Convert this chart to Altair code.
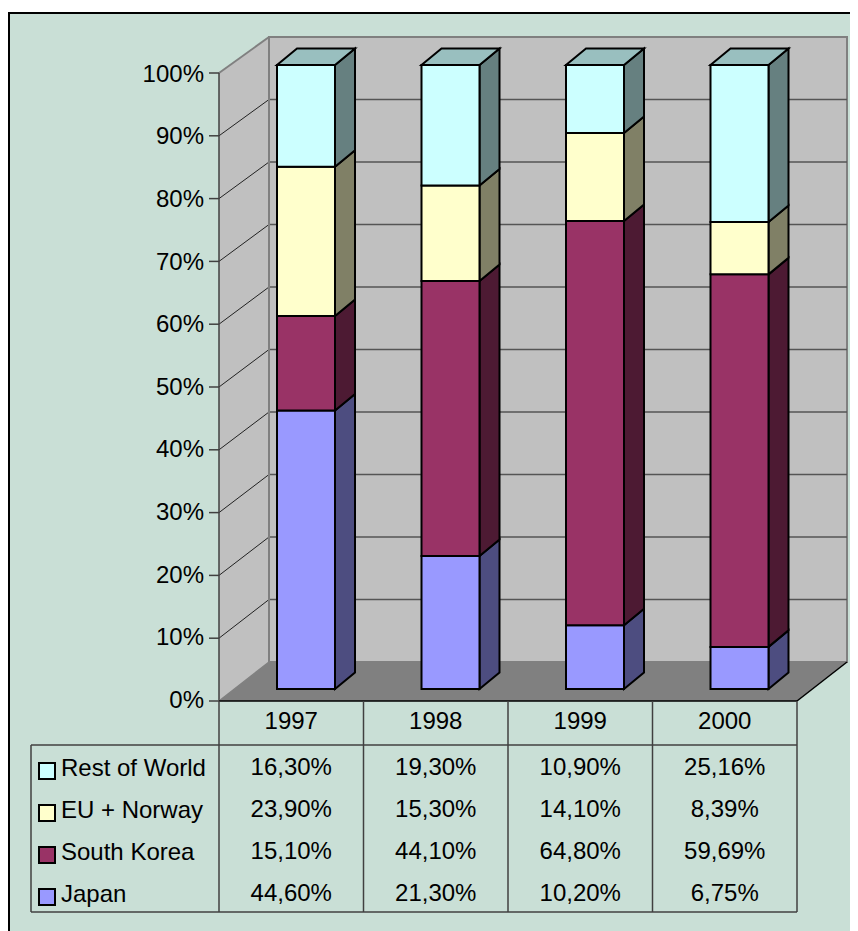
import altair as alt
import pandas as pd

years = ["1997", "1998", "1999", "2000"]
series = ["Japan", "South Korea", "EU + Norway", "Rest of World"]
japan = [44.60, 21.30, 10.20, 6.75]
korea = [15.10, 44.10, 64.80, 59.69]
eu = [23.90, 15.30, 14.10, 8.39]
rest = [16.30, 19.30, 10.90, 25.16]
ticks = [0, 10, 20, 30, 40, 50, 60, 70, 80, 90, 100]
front = ["#9999FF", "#993366", "#FFFFCC", "#CCFFFF"]
side = ["#4D4D80", "#4D1A33", "#808066", "#668080"]
top_face = "#99BFBF"
values = [japan, korea, eu, rest]

W, H = 842, 925
OX, OY = 219.0, 701.0      # picture position of the 0% / first-category corner
UX, UY = 144.5, 6.28       # pixels per category, pixels per percent
TXT = 1.2                  # middle-baseline correction for capitals and digits


def fx(px):
    return (px - OX) / UX


def fy(py):
    return (OY - py) / UY


xs = alt.Scale(domain=[fx(8), fx(8 + W)], range=[0, W], nice=False, zero=False)
ys = alt.Scale(domain=[fy(8 + H), fy(8)], range=[H, 0], nice=False, zero=False)
X = lambda f="x": alt.X(f"{f}:Q", scale=xs, axis=None)
Y = lambda f="y": alt.Y(f"{f}:Q", scale=ys, axis=None)

layers = []
FONT = dict(font="Liberation Sans", fontSize=24, color="black")


def rects(rows, **mk):
    df = pd.DataFrame(rows, columns=["x", "x2", "y", "y2", "c"])
    layers.append(alt.Chart(df).mark_rect(**mk).encode(
        x=X(), x2="x2:Q", y=Y(), y2="y2:Q", fill=alt.Fill("c:N", scale=None)))


def lines(segs, color, width):
    rows = []
    for i, (a, b, c, d) in enumerate(segs):
        rows += [dict(x=a, y=b, id=i, o=0), dict(x=c, y=d, id=i, o=1)]
    layers.append(alt.Chart(pd.DataFrame(rows)).mark_line(
        color=color, strokeWidth=width).encode(
        x=X(), y=Y(), detail="id:N", order="o:Q"))


def vareas(polys, **mk):
    """polys: (x0, lo0, hi0, x1, lo1, hi1, colour)"""
    rows = []
    for i, (x0, l0, h0, x1, l1, h1, c) in enumerate(polys):
        rows += [dict(x=x0, y=l0, y2=h0, id=i, c=c), dict(x=x1, y=l1, y2=h1, id=i, c=c)]
    layers.append(alt.Chart(pd.DataFrame(rows)).mark_area(orient="vertical", **mk).encode(
        x=X(), y=Y(), y2="y2:Q", detail="id:N", fill=alt.Fill("c:N", scale=None)))


def hareas(polys, **mk):
    """polys: (y0, l0, r0, y1, l1, r1, colour)"""
    rows = []
    for i, (y0, l0, r0, y1, l1, r1, c) in enumerate(polys):
        rows += [dict(y=y0, x=l0, x2=r0, id=i, c=c), dict(y=y1, x=l1, x2=r1, id=i, c=c)]
    layers.append(alt.Chart(pd.DataFrame(rows)).mark_area(orient="horizontal", **mk).encode(
        y=Y(), x=X(), x2="x2:Q", detail="id:N", fill=alt.Fill("c:N", scale=None)))


def texts(rows, align):
    df = pd.DataFrame(rows, columns=["x", "y", "t"])
    layers.append(alt.Chart(df).mark_text(align=align, baseline="middle", **FONT).encode(
        x=X(), y=Y(), text="t:N"))


# chart frame
rects([(fx(9), fx(8 + W + 20), fy(13), fy(8 + H + 20), "#C9DFD6")], stroke="black", strokeWidth=2)

# 3-D box
BACK_X = fx(269)
RIGHT = fx(797)
BACK_RIGHT = fx(847)
LIFT = fy(662)
BK = 625 / 628
back = lambda v: LIFT + v * BK
rects([(BACK_X, BACK_RIGHT, back(0), back(100), "#C0C0C0")], stroke="#808080", strokeWidth=2)
vareas([(0, 0, 100, BACK_X, back(0), back(100), "#C0C0C0")])
hareas([(0, 0, RIGHT, LIFT, BACK_X, BACK_RIGHT, "#808080")])
lines([(BACK_X, back(t), BACK_RIGHT, back(t)) for t in ticks[1:-1]], "#555555", 1.5)
lines([(0, t, BACK_X, back(t)) for t in ticks[1:-1]], "#222222", 1)
lines([(0, 100, BACK_X, back(100)), (BACK_X, back(0), BACK_X, back(100))], "#808080", 2)
lines([(0, 0, 0, 100)], "#404040", 1.5)
lines([(fx(209), t, 0, t) for t in ticks], "#404040", 1.5)
lines([(0, 0, BACK_X, back(0))], "#808080", 1.5)

# bars
BAR_L = fx(277)
BAR_W = 58 / UX
BX = 20 / UX
BY = 16.5 / UY
B0 = fy(689)
BS = 624 / 628 * 1.0
fr, sd, tp = [], [], []
for i, yr in enumerate(years):
    col = [v[i] for v in values]
    total = sum(col)
    cum = 0
    left = i + BAR_L
    right = left + BAR_W
    for j, v in enumerate(col):
        lo = B0 + cum / total * 100 * BS
        cum += v
        hi = B0 + cum / total * 100 * BS
        sd.append((right, lo, hi, right + BX, lo + BY, hi + BY, side[j]))
        fr.append((left, right, lo, hi, front[j]))
    tp.append((hi, left, right, hi + BY, left + BX, right + BX, top_face))
vareas(sd, stroke="black", strokeWidth=2)
hareas(tp, stroke="black", strokeWidth=2)
rects(fr, stroke="black", strokeWidth=2)

# floor edges
lines([(0, 0, RIGHT, 0), (RIGHT, 0, BACK_RIGHT, LIFT)], "black", 1.5)

# data table
T_MID = fy(745)
T_BOT = fy(912)
T_LEFT = fx(31)
grid = [(i, 0, i, T_BOT) for i in range(5)]
grid += [(T_LEFT, T_MID, 4, T_MID), (T_LEFT, T_BOT, 4, T_BOT), (T_LEFT, T_MID, T_LEFT, T_BOT)]
lines(grid, "#404040", 1.5)

row_y = [893, 851, 809, 767]
swatch_y = [897, 855, 813, 771]
texts([(fx(204), fy(699.5 + TXT - t * 6.26), f"{t}%") for t in ticks], "right")
texts([(i + 0.5, fy(720.7 + TXT), y) for i, y in enumerate(years)], "center")
cells = []
for j, v in enumerate(values):
    for i, val in enumerate(v):
        cells.append((i + 0.5, fy(row_y[j] + TXT), f"{val:.2f}%".replace(".", ",")))
texts(cells, "center")
texts([(fx(61), fy(row_y[j] + 1 + TXT), s) for j, s in enumerate(series)], "left")
rects([(fx(39), fx(55), fy(swatch_y[j] + 8), fy(swatch_y[j] - 8), front[j]) for j in range(4)],
      stroke="black", strokeWidth=2)

chart = alt.layer(*layers).properties(
    width=W, height=H, padding=0,
    autosize=alt.AutoSizeParams(type="none"),
    background="white",
).configure_view(stroke=None)

chart.save("out.html", embed_options={"renderer": "svg", "actions": False})
